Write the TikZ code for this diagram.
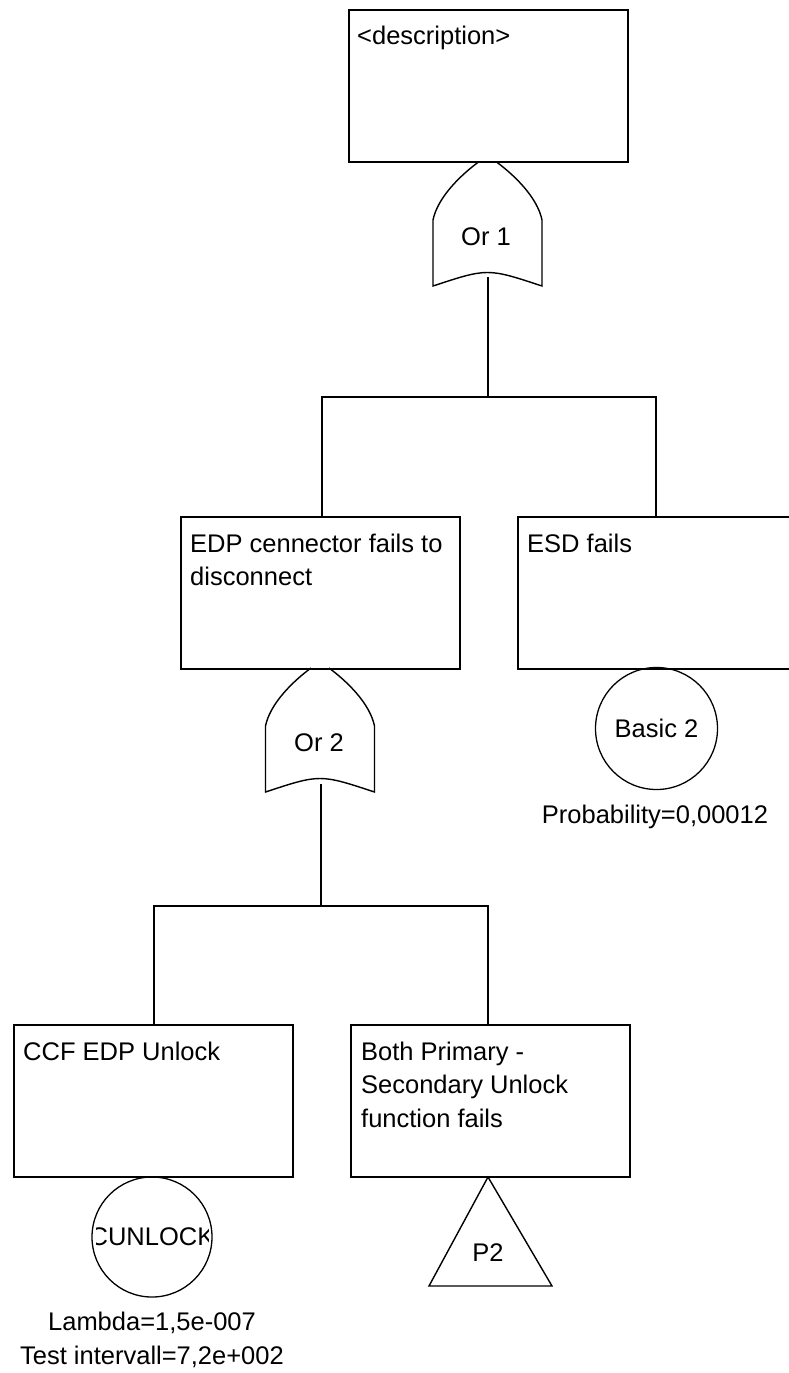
\documentclass[tikz,border=0pt]{standalone}
\usepackage{fontspec}
\setmainfont{Liberation Sans}
\begin{document}
\begin{tikzpicture}[x=1pt,y=-1pt,
  box/.style={draw,line width=1.8pt,rectangle,minimum width=279pt,minimum height=152pt,anchor=north west,inner sep=0pt},
  event/.style={draw,line width=1.3pt,circle,inner sep=0pt},
  txt/.style={font=\fontsize{25.5}{33.5}\selectfont,inner sep=0pt,align=left},
  wire/.style={line width=1.8pt},
  gateline/.style={line width=1.4pt},
  orgate/.pic={
    \draw[gateline] (-9,0) .. controls (-28,14) and (-50,36) .. (-54.5,58)
      -- (-54.5,124) .. controls (0,106) .. (54.5,124)
      -- (54.5,58) .. controls (50,36) and (28,14) .. (9,0);
  }]
\useasboundingbox (0,0) rectangle (789,1373);
\clip (0,0) rectangle (789,1373);

% events (boxes)
\node[box] (top) at (348,9) {};
\node[box] (edp) at (180,516) {};
\node[box] (esd) at (517,516) {};
\node[box] (ccf) at (13,1024) {};
\node[box] (both) at (350,1024) {};

% box texts (base anchor sits on the last line)
\node[txt,anchor=base west] (ttop) at ([shift={(9,35)}]top.north west) {<description>};
\node[txt,anchor=base west] (tedp) at ([shift={(10,69.5)}]edp.north west) {EDP cennector fails to\\disconnect};
\node[txt,anchor=base west] (tesd) at ([shift={(10,36)}]esd.north west) {ESD fails};
\node[txt,anchor=base west] (tccf) at ([shift={(10,36)}]ccf.north west) {CCF EDP Unlock};
\node[txt,anchor=base west] (tboth) at ([shift={(11,103)}]both.north west) {Both Primary -\\Secondary Unlock\\function fails};

% OR gates
\pic at (487.5,162) {orgate};
\node[txt] (or1) at (486,237) {Or 1};
\coordinate (or1out) at (488,277);
\pic at (320,668) {orgate};
\node[txt] (or2) at (319,743) {Or 2};
\coordinate (or2out) at (321,784);

% first level connectors
\coordinate (b1l) at (322,397);
\coordinate (b1r) at (656,397);
\draw[wire] (or1out) -- (or1out |- b1l);
\draw[wire] (edp.north -| b1l) -- (b1l) -- (b1r) -- (esd.north -| b1r);

% second level connectors
\coordinate (b2l) at (154,906);
\coordinate (b2r) at (488,906);
\draw[wire] (or2out) -- (or2out |- b2l);
\draw[wire] (ccf.north -| b2l) -- (b2l) -- (b2r) -- (both.north -| b2r);

% basic event: Basic 2
\node[event,minimum size=122pt] (basic2) at (656.5,728.5) {};
\node[txt] (tbasic2) at (basic2.center) {Basic 2};
\node[txt] (pbasic2) at (655,817) {Probability=0,00012};

% basic event: CUNLOCK (label cut off inside the circle)
\node[event,minimum size=120pt] (cunlock) at (152,1237) {};
\begin{scope}
  \clip ([xshift=5pt]cunlock.west |- 0,1200) rectangle ([xshift=-4pt]cunlock.east |- 0,1275);
  \node[txt] (tcunlock) at (cunlock.center) {CUNLOCK};
\end{scope}
\node[txt] (lcunlock) at (152,1323) {Lambda=1,5e-007};
\node[txt] (icunlock) at (152,1357) {Test intervall=7,2e+002};

% transfer gate P2
\draw[gateline] (488,1177) coordinate (p2apex) -- (552,1286) -- (429,1286) -- cycle;
\node[txt] (p2) at (488,1253) {P2};
\end{tikzpicture}
\end{document}
